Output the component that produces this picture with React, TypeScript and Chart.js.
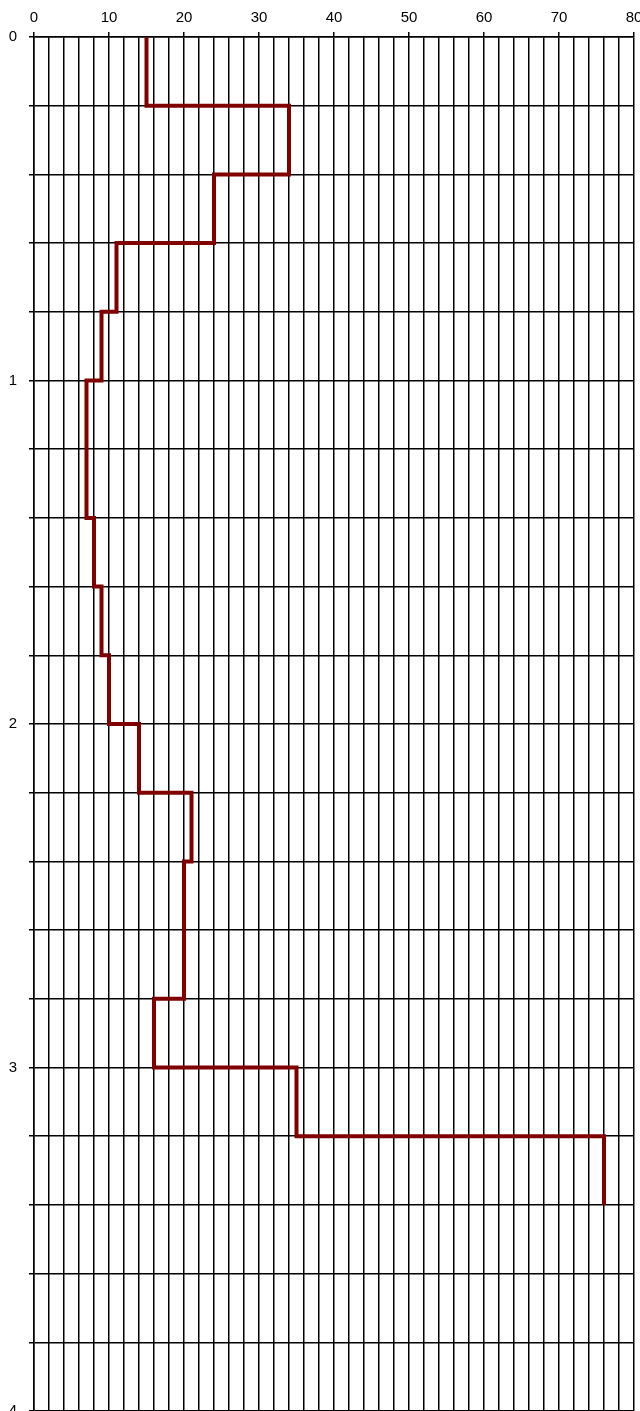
import React, { useEffect, useRef } from "react";
import { Chart, registerables } from "chart.js";

Chart.register(...registerables);

// Layer tops (depth) and the value within each layer
const layerTops = [0, 0.2, 0.4, 0.6, 0.8, 1.0, 1.2, 1.4, 1.6, 1.8, 2.0, 2.2, 2.4, 2.6, 2.8, 3.0, 3.2];
const layerBottoms = [0.2, 0.4, 0.6, 0.8, 1.0, 1.2, 1.4, 1.6, 1.8, 2.0, 2.2, 2.4, 2.6, 2.8, 3.0, 3.2, 3.4];
const layerValues = [15, 34, 24, 11, 9, 7, 7, 8, 9, 10, 14, 21, 20, 20, 16, 35, 76];

const xMin = 0;
const xMax = 80;
const xStep = 2;
const xLabelEvery = 10;
const yMin = 0;
const yMax = 4;
const yStep = 0.2;

export default function App() {
  const ref = useRef<HTMLCanvasElement | null>(null);

  useEffect(() => {
    if (!ref.current) return;
    const pts: { x: number; y: number }[] = [];
    layerValues.forEach((v, i) => {
      pts.push({ x: v, y: layerTops[i] });
      pts.push({ x: v, y: layerBottoms[i] });
    });
    const isInt = (v: number) => Math.abs(v - Math.round(v)) < 1e-6;
    const chart = new Chart(ref.current, {
      type: "scatter",
      data: {
        datasets: [
          {
            data: pts,
            showLine: true,
            borderColor: "#800000",
            borderWidth: 4,
            pointRadius: 0,
            borderJoinStyle: "miter",
            borderCapStyle: "butt",
            fill: false,
            clip: false as any,
          },
        ],
      },
      options: {
        responsive: false,
        animation: false,
        layout: { padding: { top: 0, right: 6, bottom: 9, left: 0 } },
        plugins: { legend: { display: false }, tooltip: { enabled: false } },
        scales: {
          x: {
            type: "linear",
            position: "top",
            min: xMin,
            max: xMax,
            afterFit: (s: any) => {
              s.height = 37;
              s.paddingLeft = 0;
              s.paddingRight = 0;
            },
            ticks: {
              stepSize: xStep,
              autoSkip: false,
              maxRotation: 0,
              color: "#000",
              padding: 5,
              font: { family: "Liberation Sans, Arial, sans-serif", size: 15 },
              callback: (v: any) => (Math.round(v) % xLabelEvery === 0 ? String(Math.round(v)) : ""),
            },
            grid: {
              color: "#000",
              lineWidth: 1.5,
              tickLength: 5,
              tickColor: (ctx: any) =>
                ctx.tick && Math.round(ctx.tick.value) % xLabelEvery === 0 ? "#000" : "rgba(0,0,0,0)",
            },
            border: { color: "#000", width: 1.5 },
          },
          y: {
            type: "linear",
            reverse: true,
            min: yMin,
            max: yMax,
            afterFit: (s: any) => {
              s.width = 34;
              s.paddingTop = 0;
              s.paddingBottom = 0;
            },
            ticks: {
              stepSize: yStep,
              autoSkip: false,
              color: "#000",
              padding: 12,
              font: { family: "Liberation Sans, Arial, sans-serif", size: 15 },
              callback: (v: any) => (isInt(v) ? String(Math.round(v)) : ""),
            },
            grid: {
              color: "#000",
              lineWidth: 1.5,
              tickLength: 5,
            },
            border: { color: "#000", width: 1.5 },
          },
        },
      },
    });
    return () => chart.destroy();
  }, []);

  return (
    <div style={{ position: "fixed", left: 0, top: 0, width: 640, height: 1411, overflow: "hidden", background: "#fff" }}>
      <canvas ref={ref} width={640} height={1420} style={{ display: "block" }} />
    </div>
  );
}
